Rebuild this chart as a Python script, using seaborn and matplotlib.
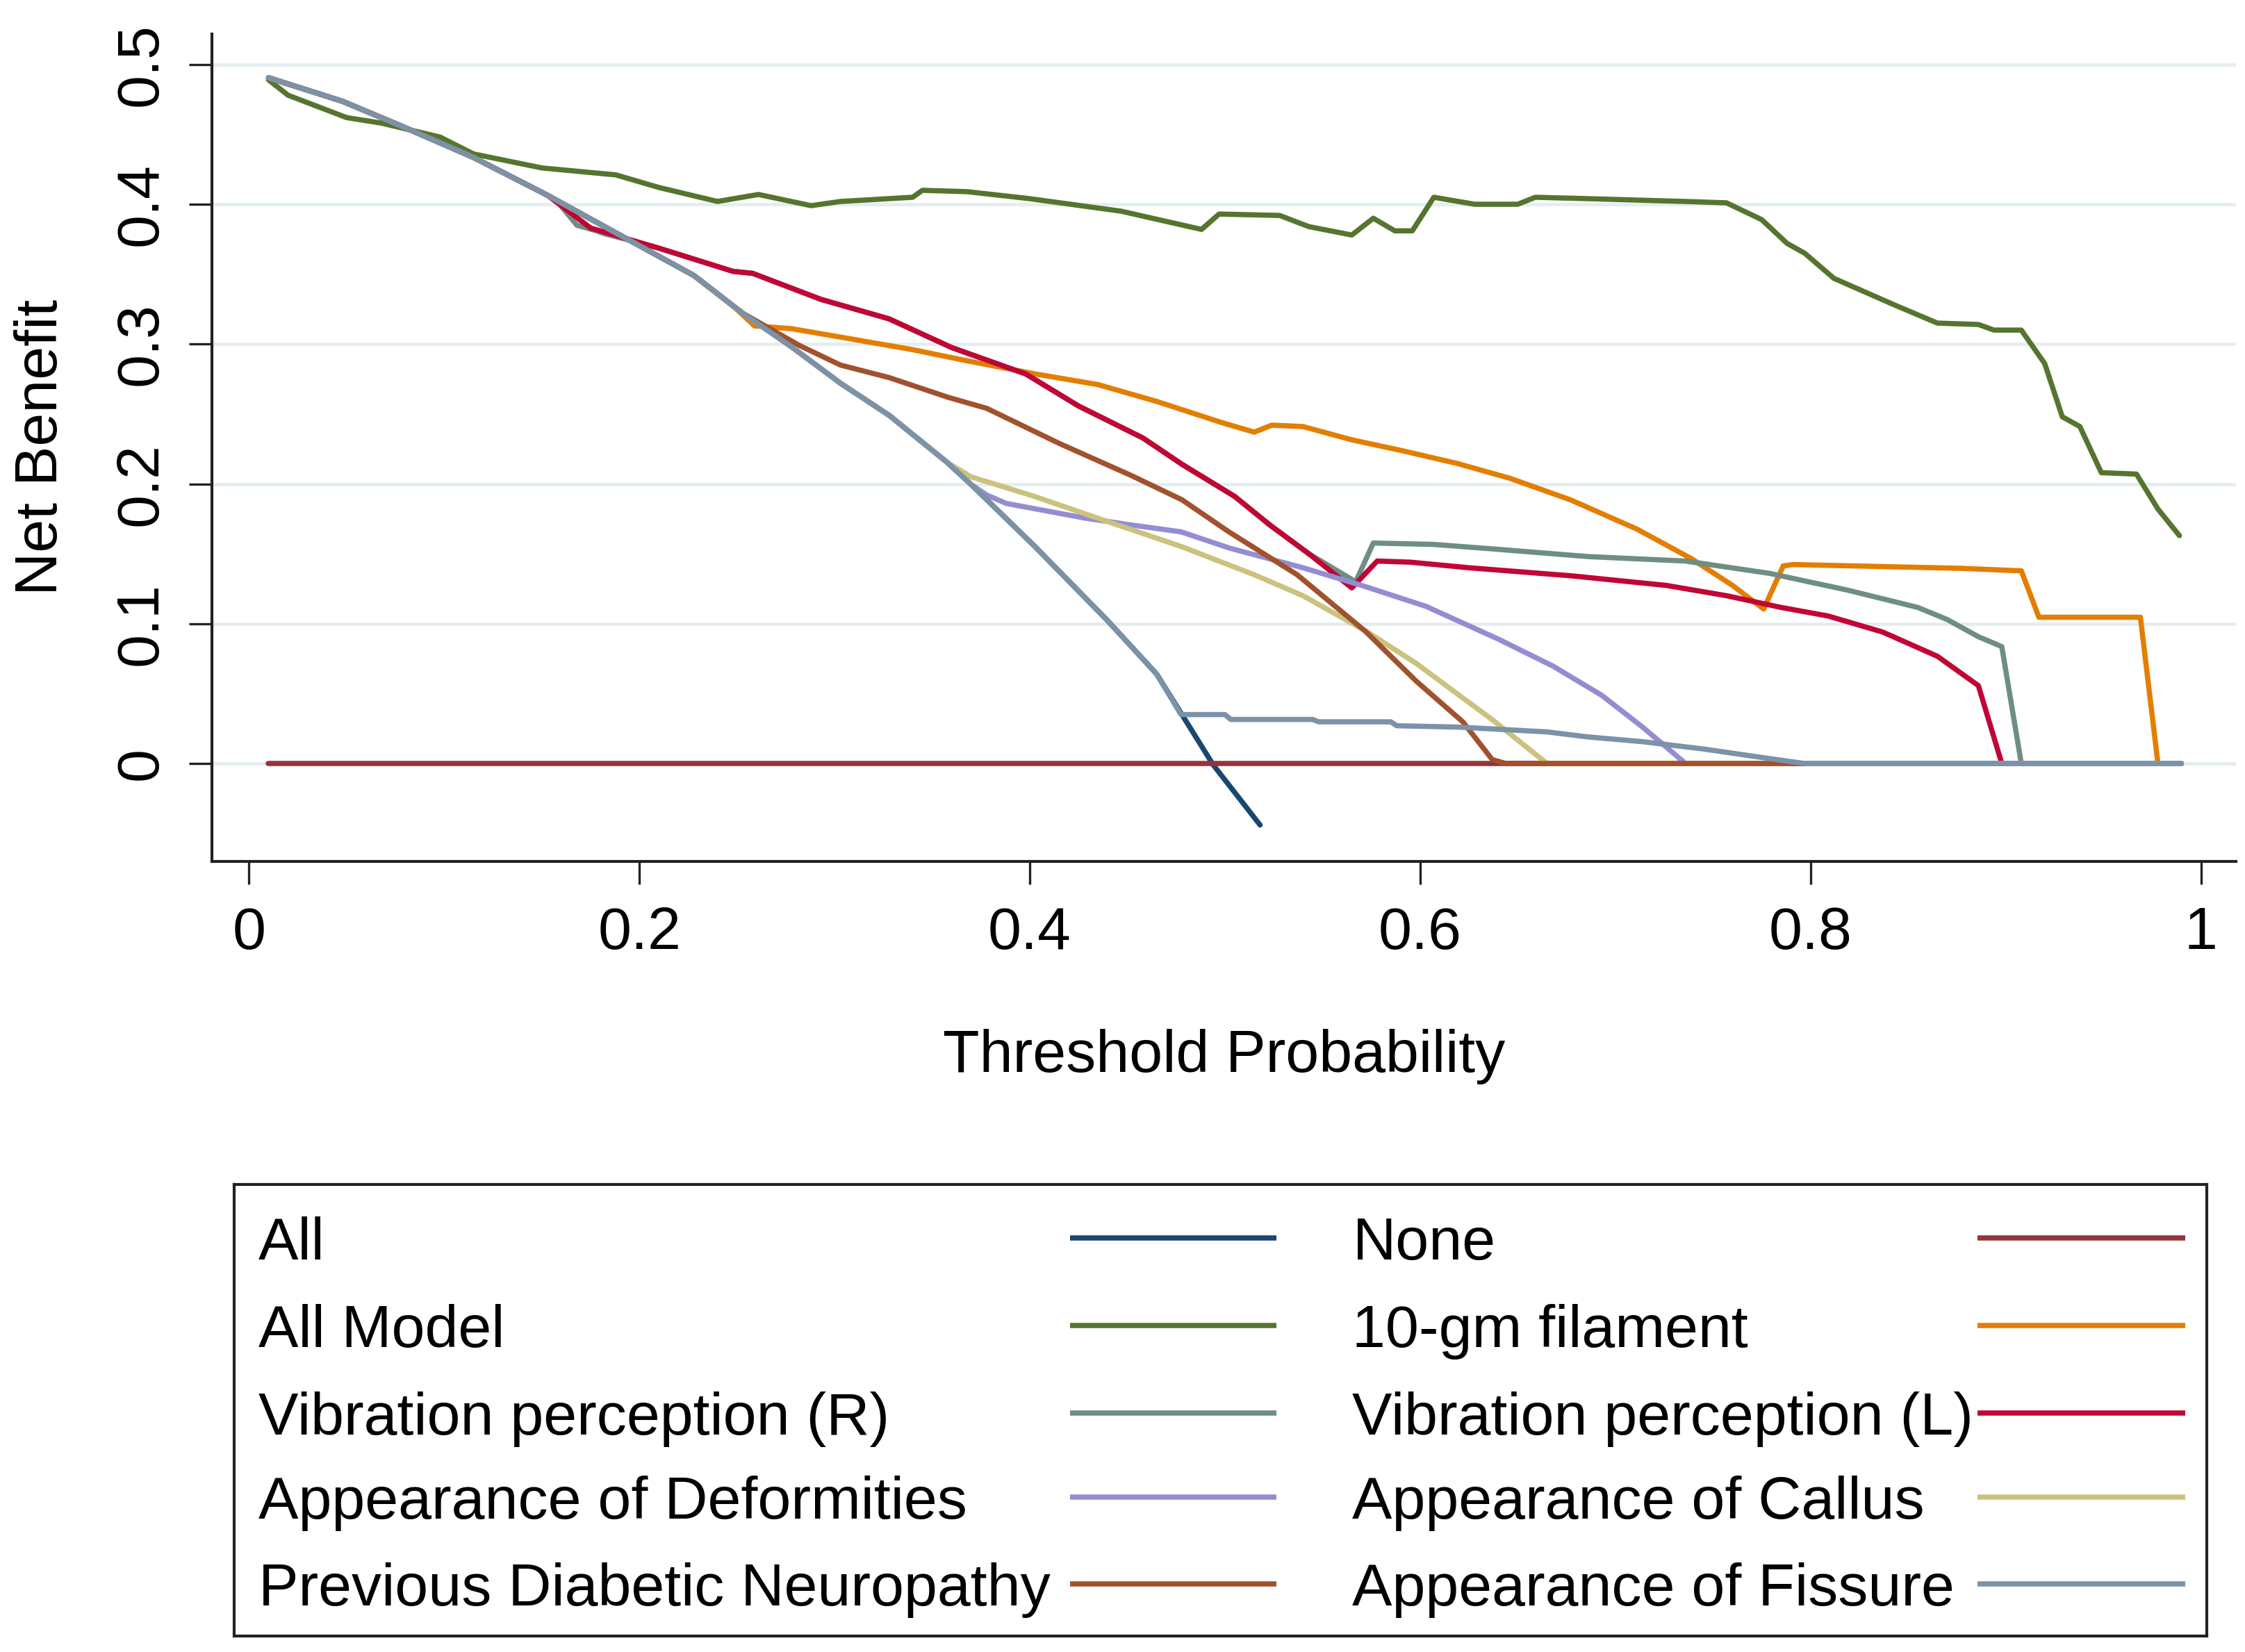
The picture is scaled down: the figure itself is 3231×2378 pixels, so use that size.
import matplotlib
matplotlib.use("Agg")
import matplotlib.pyplot as plt
import numpy as np
import pandas as pd
import seaborn as sns

# -----------------------------
# Data
# -----------------------------
# part of the curve that every model shares with "All" at low thresholds
common_x = [0.01, 0.048, 0.078, 0.115, 0.153, 0.19, 0.228, 0.253, 0.278, 0.303,
            0.328, 0.358, 0.37, 0.4025, 0.44, 0.465, 0.4775]
common_y = [0.4905, 0.4736, 0.456, 0.4335, 0.4064, 0.378, 0.349, 0.322, 0.298, 0.272,
            0.249, 0.215, 0.1995, 0.1554, 0.102, 0.064, 0.036]

all_x = common_x + [0.494, 0.518]
all_y = common_y + [-0.001, -0.044]

none_x = [0.01, 0.99]
none_y = [0.0, 0.0]

model_x = [0.01, 0.02, 0.05, 0.068, 0.098, 0.115, 0.15, 0.188, 0.21, 0.24, 0.261, 0.288,
           0.303, 0.34, 0.345, 0.368, 0.40, 0.447, 0.488, 0.497, 0.528, 0.543, 0.565, 0.576,
           0.587, 0.596, 0.607, 0.628, 0.650, 0.659, 0.686, 0.736, 0.757, 0.775, 0.788, 0.797,
           0.812, 0.843, 0.865, 0.886, 0.894, 0.908, 0.920, 0.929, 0.938, 0.949, 0.967, 0.978,
           0.989]
model_y = [0.489, 0.478, 0.462, 0.458, 0.448, 0.436, 0.426, 0.421, 0.412, 0.402, 0.407, 0.399,
           0.402, 0.405, 0.410, 0.409, 0.404, 0.395, 0.382, 0.393, 0.392, 0.384, 0.378, 0.390,
           0.381, 0.381, 0.405, 0.400, 0.400, 0.405, 0.404, 0.402, 0.401, 0.389, 0.372, 0.365,
           0.347, 0.328, 0.315, 0.314, 0.310, 0.310, 0.286, 0.248, 0.241, 0.208, 0.207, 0.182,
           0.163]

fil_x = common_x[:7] + [0.249, 0.259, 0.278, 0.303, 0.340, 0.368, 0.403, 0.435, 0.465, 0.498,
                        0.515, 0.524, 0.540, 0.565, 0.590, 0.619, 0.646, 0.677, 0.711, 0.739,
                        0.760, 0.776, 0.786, 0.791, 0.877, 0.908, 0.917, 0.969, 0.978, 0.99]
fil_y = common_y[:7] + [0.326, 0.313, 0.311, 0.305, 0.296, 0.288, 0.2786, 0.271, 0.259, 0.244,
                        0.237, 0.242, 0.241, 0.2315, 0.224, 0.2146, 0.204, 0.1886, 0.1677, 0.1465,
                        0.1274, 0.1105, 0.1413, 0.1423, 0.1396, 0.1378, 0.1046, 0.1046, 0.0, 0.0]

vib_mid_x = [0.21, 0.248, 0.258, 0.293, 0.328, 0.360, 0.398, 0.425, 0.458, 0.478, 0.505,
             0.523, 0.543]
vib_mid_y = [0.3686, 0.352, 0.3506, 0.332, 0.318, 0.2975, 0.2786, 0.2557, 0.2328, 0.214, 0.191,
             0.1706, 0.150]

vibr_x = common_x[:5] + [0.158, 0.168, 0.178, 0.182] + vib_mid_x + \
    [0.567, 0.576, 0.607, 0.637, 0.686, 0.736, 0.779, 0.819, 0.855, 0.870, 0.886, 0.898, 0.908, 0.99]
vibr_y = common_y[:5] + [0.402, 0.385, 0.381, 0.379] + vib_mid_y + \
    [0.130, 0.1577, 0.1567, 0.1535, 0.148, 0.1448, 0.136, 0.124, 0.1116, 0.103, 0.0907, 0.0836, 0.0, 0.0]

vibl_x = common_x[:5] + [0.175] + vib_mid_x + \
    [0.565, 0.578, 0.595, 0.625, 0.677, 0.726, 0.757, 0.785, 0.809, 0.837, 0.865, 0.886, 0.898, 0.99]
vibl_y = common_y[:5] + [0.383] + vib_mid_y + \
    [0.1256, 0.1448, 0.144, 0.140, 0.1343, 0.1274, 0.120, 0.1116, 0.1055, 0.094, 0.0767, 0.0557, 0.0, 0.0]

deform_x = common_x[:13] + [0.378, 0.388, 0.428, 0.452, 0.4775, 0.5025, 0.540, 0.570, 0.603,
                            0.640, 0.668, 0.693, 0.714, 0.736, 0.99]
deform_y = common_y[:13] + [0.192, 0.186, 0.1756, 0.1706, 0.1657, 0.154, 0.140, 0.1274, 0.1124,
                            0.089, 0.0697, 0.0488, 0.026, 0.0, 0.0]

callus_x = common_x[:12] + [0.370, 0.4025, 0.440, 0.478, 0.515, 0.540, 0.5725, 0.598, 0.620,
                            0.637, 0.665, 0.99]
callus_y = common_y[:12] + [0.205, 0.191, 0.173, 0.155, 0.135, 0.120, 0.0945, 0.0716, 0.0488,
                            0.0313, 0.0, 0.0]

prev_x = common_x[:8] + [0.282, 0.303, 0.328, 0.358, 0.378, 0.415, 0.452, 0.478, 0.502, 0.537,
                         0.572, 0.598, 0.622, 0.637, 0.644, 0.797]
prev_y = common_y[:8] + [0.299, 0.285, 0.276, 0.262, 0.254, 0.229, 0.206, 0.1886, 0.1657, 0.135,
                         0.0945, 0.0589, 0.0296, 0.0027, 0.0, 0.0]

fis_x = common_x + [0.50, 0.503, 0.545, 0.548, 0.585, 0.588, 0.620, 0.665, 0.686, 0.714, 0.745,
                    0.779, 0.797, 0.99]
fis_y = common_y[:-1] + [0.035, 0.035, 0.0315, 0.0315, 0.0298, 0.0298, 0.027, 0.026, 0.0226, 0.019,
                         0.0156, 0.0104, 0.0035, 0.0, 0.0]

labels = ["All", "None", "All Model", "10-gm filament", "Vibration perception (R)",
          "Vibration perception (L)", "Appearance of Deformities", "Appearance of Callus",
          "Previous Diabetic Neuropathy", "Appearance of Fissure"]
colors = ["#1a476f", "#90353b", "#55752f", "#e37e00", "#6e8e84",
          "#c10534", "#938dd2", "#cac27e", "#a0522d", "#7b92a8"]
series = [(all_x, all_y), (none_x, none_y), (model_x, model_y), (fil_x, fil_y),
          (vibr_x, vibr_y), (vibl_x, vibl_y), (deform_x, deform_y), (callus_x, callus_y),
          (prev_x, prev_y), (fis_x, fis_y)]

frames = []
for name, (xs, ys) in zip(labels, series):
    frames.append(pd.DataFrame({"curve": name, "x": xs, "y": ys}))
df = pd.concat(frames, ignore_index=True)

# -----------------------------
# Style
# -----------------------------
sns.set_theme(style="white")
plt.rcParams["font.family"] = ["Liberation Sans", "DejaVu Sans"]
FS = 31
LW = 2.7

fig = plt.figure(figsize=(16.155, 11.89), dpi=200)
ax = fig.add_axes([0.0944, 0.4786, 0.9016, 0.501])

palette = dict(zip(labels, colors))
sns.lineplot(data=df, x="x", y="y", hue="curve", hue_order=labels, palette=palette,
             estimator=None, sort=False, legend=False, linewidth=LW, ax=ax)

ax.set_xlim(-0.019, 1.018)
ax.set_ylim(-0.07, 0.522)
ax.set_xticks([0, 0.2, 0.4, 0.6, 0.8, 1])
ax.set_xticklabels(["0", "0.2", "0.4", "0.6", "0.8", "1"])
ax.set_yticks([0, 0.1, 0.2, 0.3, 0.4, 0.5])
ax.set_yticklabels(["0", "0.1", "0.2", "0.3", "0.4", "0.5"])
ax.yaxis.grid(True, color="#e4edf0", linewidth=1.7)
ax.xaxis.grid(False)
ax.set_axisbelow(True)

for side in ["top", "right"]:
    ax.spines[side].set_visible(False)
for side in ["left", "bottom"]:
    ax.spines[side].set_color("#222222")
    ax.spines[side].set_linewidth(1.5)

ax.tick_params(axis="both", which="major", length=12, width=1.2, color="#222222",
               labelsize=FS, labelcolor="black", bottom=True, left=True)
ax.tick_params(axis="x", pad=11)
ax.tick_params(axis="y", pad=10, labelrotation=90)
for lab in ax.get_yticklabels():
    lab.set_va("center")

ax.set_xlabel("Threshold Probability", fontsize=FS, color="black", labelpad=35)
ax.set_ylabel("Net Benefit", fontsize=FS, color="black", labelpad=23)

# -----------------------------
# Legend (Stata layout: label first, key at the right of each column)
# -----------------------------
lax = fig.add_axes([0.1043, 0.0097, 0.8787, 0.2733])
lax.set_xlim(0, 1)
lax.set_ylim(0, 1)
lax.set_xticks([])
lax.set_yticks([])
for side in lax.spines:
    lax.spines[side].set_visible(True)
    lax.spines[side].set_color("#222222")
    lax.spines[side].set_linewidth(1.5)

row_y = [0.8815, 0.6877, 0.4938, 0.3077, 0.1154]
col_text_x = [0.0123, 0.5669]
col_key_x = [(0.4237, 0.5284), (0.8838, 0.9891)]
for i, (name, col) in enumerate(zip(labels, colors)):
    r, c = divmod(i, 2)
    lax.text(col_text_x[c], row_y[r] - 0.048, name, fontsize=FS, color="black",
             ha="left", va="baseline")
    lax.plot(col_key_x[c], [row_y[r], row_y[r]], color=col, linewidth=LW,
             solid_capstyle="butt")

fig.savefig("out.png", dpi=200, facecolor="white")
